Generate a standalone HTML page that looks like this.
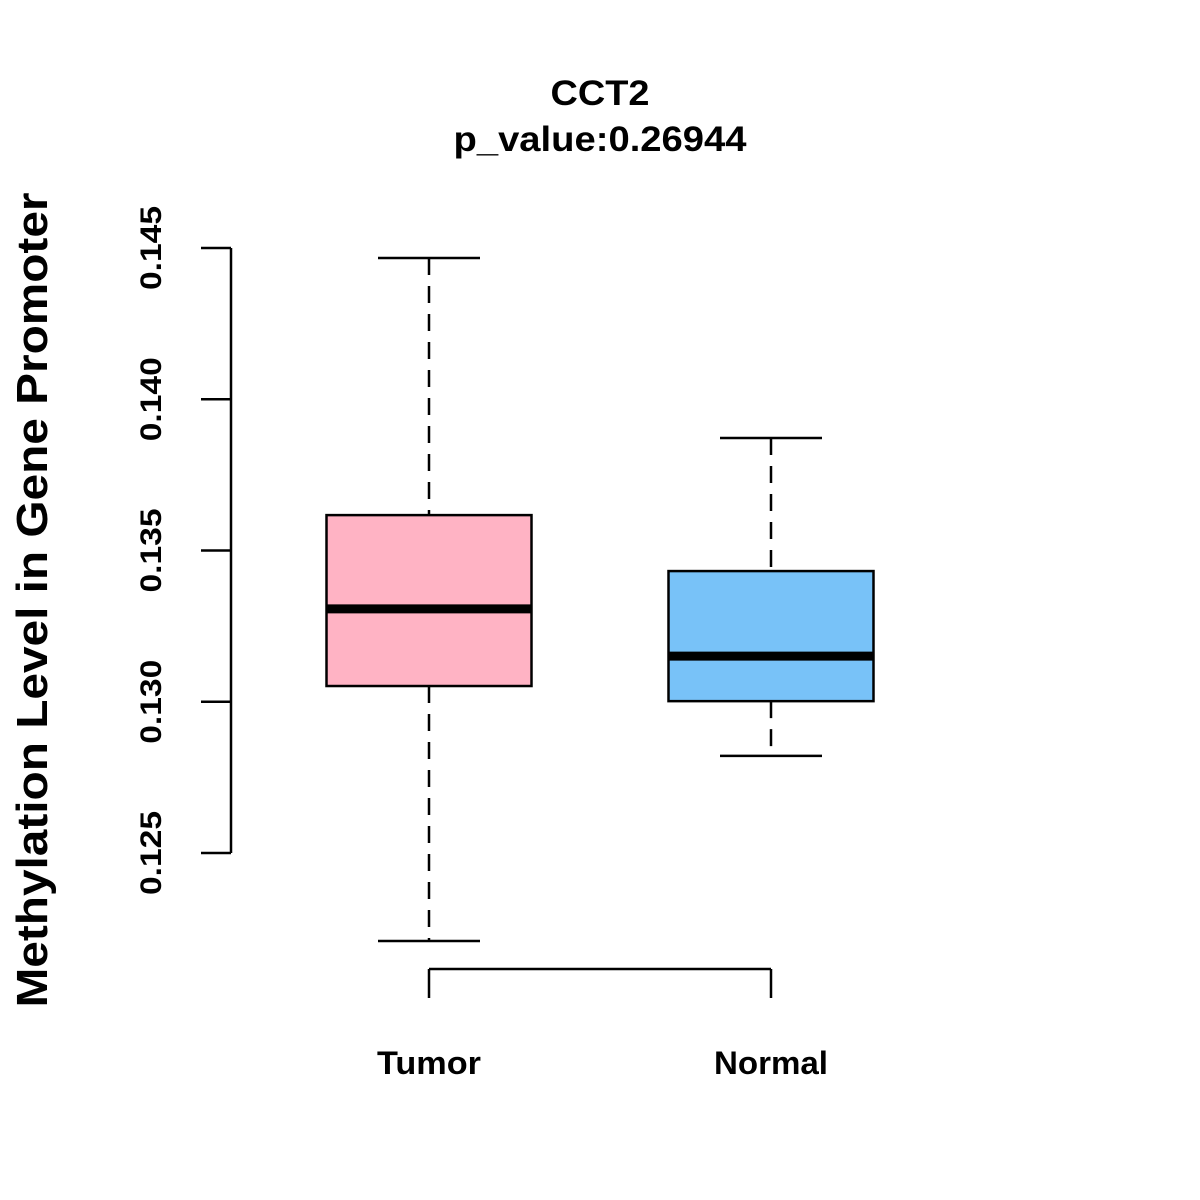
<!DOCTYPE html>
<html><head><meta charset="utf-8"><style>
body{margin:0;background:#fff}
svg{display:block;font-family:"Liberation Sans",Arial,sans-serif;font-weight:bold}
</style></head><body>
<svg id="chart" width="1200" height="1200" viewBox="0 0 1200 1200">
<text x="600" y="105" text-anchor="middle" font-size="35" textLength="99" lengthAdjust="spacingAndGlyphs">CCT2</text>
<text x="600" y="151" text-anchor="middle" font-size="35" textLength="293" lengthAdjust="spacingAndGlyphs">p_value:0.26944</text>
<text transform="translate(47,600) rotate(-90)" text-anchor="middle" font-size="44" textLength="815" lengthAdjust="spacingAndGlyphs">Methylation Level in Gene Promoter</text>
<g id="yaxis"></g>
<g id="xaxis"></g>
<g id="boxes"></g>
</svg>
<script>
const categories = ["Tumor","Normal"];
const colors = ["#FFB3C4","#78C2F8"];
const whiskerLow = [0.12209, 0.12821];
const q1 = [0.13052, 0.13002];
const medians = [0.13307, 0.13151];
const q3 = [0.13617, 0.13432];
const whiskerHigh = [0.14467, 0.13872];
const yTicks = [0.125, 0.130, 0.135, 0.140, 0.145];
const yTickLabels = ["0.125","0.130","0.135","0.140","0.145"];
const xLabelWidths = [104, 114];

const NS="http://www.w3.org/2000/svg";
function y(v){return 248 + (0.145 - v) * (605/0.020);}
function x(i){return 429 + i*342;}
function mk(tag,attrs,parent){const e=document.createElementNS(NS,tag);for(const k in attrs)e.setAttribute(k,attrs[k]);parent.appendChild(e);return e;}

const ya=document.getElementById('yaxis');
const yl=mk('line',{x1:231,x2:231,y1:y(yTicks[yTicks.length-1]),y2:y(yTicks[0]),stroke:'#000','stroke-width':2.5},ya);


yTicks.forEach((t,i)=>{
  const tk=mk('line',{x1:201,x2:231,y1:y(t),y2:y(t),stroke:'#000','stroke-width':2.5},ya);
  
  
  const tx=mk('text',{transform:`translate(161,${y(t)}) rotate(-90)`,'text-anchor':'middle','font-size':30,textLength:84,lengthAdjust:'spacingAndGlyphs'},ya);
  
  
  tx.textContent=yTickLabels[i];
});

const xa=document.getElementById('xaxis');
const xl=mk('line',{x1:x(0),x2:x(categories.length-1),y1:969,y2:969,stroke:'#000','stroke-width':2.5},xa);


categories.forEach((c,i)=>{
  const tk=mk('line',{x1:x(i),x2:x(i),y1:969,y2:998,stroke:'#000','stroke-width':2.5},xa);
  
  
  const tx=mk('text',{x:x(i),y:1074,'text-anchor':'middle','font-size':32,textLength:xLabelWidths[i],lengthAdjust:'spacingAndGlyphs'},xa);
  
  
  tx.textContent=c;
});

const bg=document.getElementById('boxes');
categories.forEach((c,i)=>{
  const cx=x(i), hw=102.5, cw=51;
  const w1=mk('line',{x1:cx,x2:cx,y1:y(whiskerHigh[i]),y2:y(q3[i]),stroke:'#000','stroke-width':2.5,'stroke-dasharray':'17,11'},bg);
  
  
  const w2=mk('line',{x1:cx,x2:cx,y1:y(q1[i]),y2:y(whiskerLow[i]),stroke:'#000','stroke-width':2.5,'stroke-dasharray':'17,11'},bg);
  
  
  const c1=mk('line',{x1:cx-cw,x2:cx+cw,y1:y(whiskerHigh[i]),y2:y(whiskerHigh[i]),stroke:'#000','stroke-width':2.5},bg);
  
  
  const c2=mk('line',{x1:cx-cw,x2:cx+cw,y1:y(whiskerLow[i]),y2:y(whiskerLow[i]),stroke:'#000','stroke-width':2.5},bg);
  
  
  const r=mk('rect',{x:cx-hw,y:y(q3[i]),width:2*hw,height:y(q1[i])-y(q3[i]),fill:colors[i],stroke:'#000','stroke-width':2.5},bg);
  
  
  const m=mk('line',{x1:cx-hw,x2:cx+hw,y1:y(medians[i]),y2:y(medians[i]),stroke:'#000','stroke-width':9},bg);
  
  
});
</script>
</body></html>
